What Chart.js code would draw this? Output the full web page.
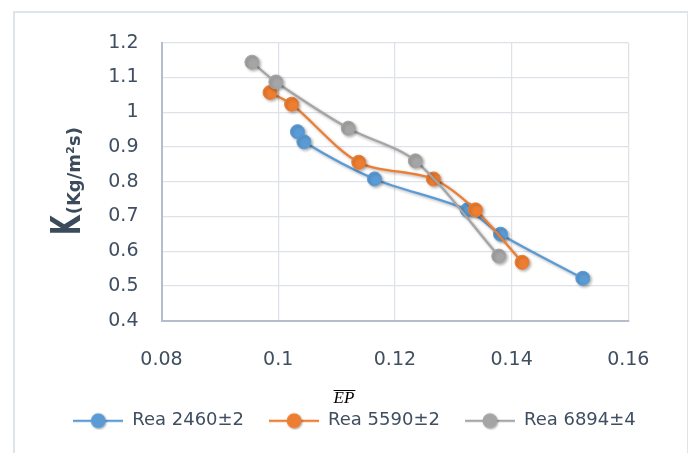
<!DOCTYPE html>
<html lang="en">
<head>
    <meta charset="UTF-8">
    <title>K vs EP</title>
    <script src="https://cdn.jsdelivr.net/npm/chart.js"></script>
    <style>
        body {
            margin: 0;
            background-color: #ffffff;
        }
        #frame {
            position: absolute;
            left: 13px;
            top: 11px;
            width: 672px;
            height: 460px;
            border: 2px solid #dfe3ea;
        }
        #chart {
            position: absolute;
            left: 0;
            top: 0;
        }
    </style>
</head>
<body>
    <div id="frame"></div>
    <canvas id="chart" width="688" height="453"></canvas>

    <script>
        // values
        var seriesNames = ['Rea 2460\u00b12', 'Rea 5590\u00b12', 'Rea 6894\u00b14'];

        var rea2460X = [0.1033, 0.1044, 0.1165, 0.1324, 0.1381, 0.1522];
        var rea2460Y = [0.944, 0.915, 0.808, 0.719, 0.649, 0.522];

        var rea5590X = [0.0986, 0.1023, 0.1138, 0.1266, 0.1338, 0.1418];
        var rea5590Y = [1.057, 1.023, 0.856, 0.808, 0.719, 0.568];

        var rea6894X = [0.0955, 0.0996, 0.1120, 0.1235, 0.1378];
        var rea6894Y = [1.144, 1.087, 0.954, 0.860, 0.586];

        var xTicks = [0.08, 0.1, 0.12, 0.14, 0.16];
        var xTickLabels = ['0.08', '0.1', '0.12', '0.14', '0.16'];
        var yTicks = [0.4, 0.5, 0.6, 0.7, 0.8, 0.9, 1.0, 1.1, 1.2];
        var yTickLabels = ['0.4', '0.5', '0.6', '0.7', '0.8', '0.9', '1', '1.1', '1.2'];

        var yTitleMain = 'K';
        var yTitleUnit = '(Kg/m\u00b2s)';
        var xTitle = 'EP';

        var colors = ['#5b9bd5', '#ed7d31', '#a5a5a5'];
        var textColor = '#3f4e60';

        function toPoints(xs, ys) {
            return xs.map(function(x, i) { return {x: x, y: ys[i]}; });
        }

        // legend icon: short line with a marker in the middle
        function makeIcon(color) {
            var c = document.createElement('canvas');
            c.width = 50;
            c.height = 18;
            var g = c.getContext('2d');
            g.strokeStyle = color;
            g.lineWidth = 2.25;
            g.beginPath();
            g.moveTo(0, 9);
            g.lineTo(50, 9);
            g.stroke();
            g.shadowColor = 'rgba(0,0,0,0.3)';
            g.shadowBlur = 2;
            g.shadowOffsetX = 1;
            g.shadowOffsetY = 1;
            g.fillStyle = color;
            g.beginPath();
            g.arc(25, 9, 7.5, 0, Math.PI * 2);
            g.fill();
            return c;
        }
        var legendIcons = colors.map(makeIcon);

        var shadowPlugin = {
            id: 'shadow',
            beforeDatasetsDraw: function(chart) {
                var ctx = chart.ctx;
                ctx.save();
                ctx.shadowColor = 'rgba(0,0,0,0.3)';
                ctx.shadowBlur = 3;
                ctx.shadowOffsetX = 1.5;
                ctx.shadowOffsetY = 1.5;
            },
            afterDatasetsDraw: function(chart) {
                chart.ctx.restore();
            }
        };

        var titlesPlugin = {
            id: 'titles',
            afterDraw: function(chart) {
                var ctx = chart.ctx;

                // y title: big K followed by the unit, rotated
                ctx.save();
                ctx.translate(80, 235);
                ctx.rotate(-Math.PI / 2);
                ctx.fillStyle = '#3b4b5c';
                ctx.textBaseline = 'alphabetic';
                ctx.font = 'bold 41px "DejaVu Sans"';
                var kw = ctx.measureText(yTitleMain).width * 0.62;
                ctx.save();
                ctx.scale(0.62, 1);
                ctx.fillText(yTitleMain, 0, 0);
                ctx.restore();
                ctx.font = 'bold 18px "DejaVu Sans"';
                ctx.fillText(yTitleUnit, kw + 1, 0);
                ctx.restore();

                // x title: EP with a bar over it
                ctx.save();
                ctx.font = 'italic 17px "Liberation Serif"';
                ctx.fillStyle = '#000000';
                ctx.textAlign = 'center';
                ctx.textBaseline = 'alphabetic';
                var w = ctx.measureText(xTitle).width;
                ctx.fillText(xTitle, 344, 403);
                ctx.strokeStyle = '#000000';
                ctx.lineWidth = 1;
                ctx.beginPath();
                ctx.moveTo(344 - w / 2, 390.5);
                ctx.lineTo(344 + w / 2 + 1, 390.5);
                ctx.stroke();
                ctx.restore();
            }
        };

        var ds = [
            toPoints(rea2460X, rea2460Y),
            toPoints(rea5590X, rea5590Y),
            toPoints(rea6894X, rea6894Y)
        ];

        var chart = new Chart(document.getElementById('chart'), {
            type: 'scatter',
            data: {
                datasets: ds.map(function(points, i) {
                    return {
                        label: seriesNames[i],
                        data: points,
                        showLine: true,
                        tension: 0.3,
                        borderColor: colors[i],
                        backgroundColor: colors[i],
                        borderWidth: 2.25,
                        pointRadius: 7,
                        pointHoverRadius: 7,
                        pointBorderWidth: 1,
                        pointBorderColor: colors[i],
                        pointBackgroundColor: colors[i],
                        order: 3 - i
                    };
                })
            },
            options: {
                responsive: false,
                animation: false,
                layout: {
                    padding: {left: 21, top: 42.7, right: 0, bottom: 13.3}
                },
                plugins: {
                    tooltip: {enabled: false},
                    legend: {
                        position: 'bottom',
                        labels: {
                            usePointStyle: true,
                            pointStyleWidth: 50,
                            padding: 25,
                            color: textColor,
                            font: {family: '"DejaVu Sans"', size: 18},
                            sort: function(a, b) { return a.datasetIndex - b.datasetIndex; },
                            generateLabels: function(c) {
                                var items = Chart.defaults.plugins.legend.labels.generateLabels(c);
                                items.forEach(function(it) {
                                    it.pointStyle = legendIcons[it.datasetIndex];
                                });
                                return items;
                            }
                        }
                    }
                },
                scales: {
                    x: {
                        type: 'linear',
                        min: 0.08,
                        max: 0.16,
                        afterBuildTicks: function(s) {
                            s.ticks = xTicks.map(function(v) { return {value: v}; });
                        },
                        afterFit: function(s) { s.height = 66; },
                        ticks: {
                            padding: 28,
                            color: textColor,
                            font: {family: '"DejaVu Sans"', size: 19},
                            maxRotation: 0,
                            callback: function(v, i) { return xTickLabels[i]; }
                        },
                        grid: {
                            color: '#dde2e9',
                            lineWidth: 1.25,
                            drawTicks: false
                        },
                        border: {color: '#b4bdcc', width: 2}
                    },
                    y: {
                        type: 'linear',
                        min: 0.4,
                        max: 1.2,
                        afterBuildTicks: function(s) {
                            s.ticks = yTicks.map(function(v) { return {value: v}; });
                        },
                        afterFit: function(s) { s.width = 140.5; },
                        ticks: {
                            padding: 23,
                            color: textColor,
                            font: {family: '"DejaVu Sans"', size: 19},
                            callback: function(v, i) { return yTickLabels[i]; }
                        },
                        grid: {
                            color: '#dde2e9',
                            lineWidth: 1.25,
                            drawTicks: false
                        },
                        border: {color: '#b4bdcc', width: 2}
                    },
                    y2: {
                        type: 'linear',
                        position: 'right',
                        afterFit: function(s) { s.width = 59.7; },
                        ticks: {display: false},
                        grid: {display: false},
                        border: {display: false}
                    }
                }
            },
            plugins: [shadowPlugin, titlesPlugin]
        });
    </script>
</body>
</html>
